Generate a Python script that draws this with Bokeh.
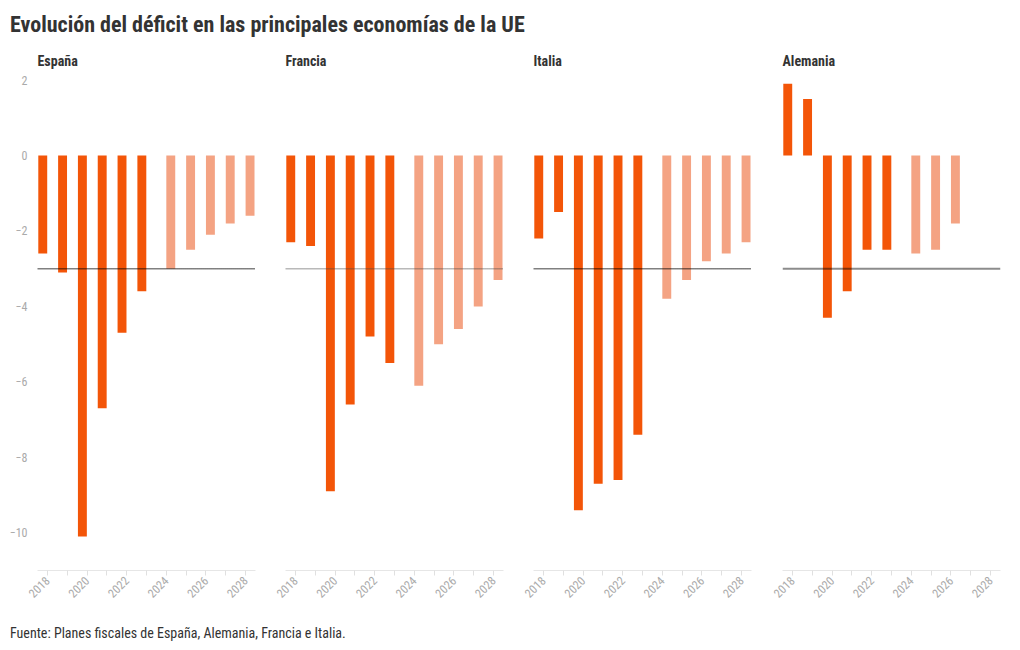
import math
from bokeh.plotting import figure
from bokeh.layouts import row, column
from bokeh.models import Div, Span, FixedTicker, Range1d, ColumnDataSource
from bokeh.transform import dodge
from bokeh.embed import file_html
from bokeh.resources import INLINE

TITLE = "Evolución del déficit en las principales economías de la UE"
SOURCE = "Fuente: Planes fiscales de España, Alemania, Francia e Italia."

countries = ["España", "Francia", "Italia", "Alemania"]
hist_years = [2018, 2019, 2020, 2021, 2022, 2023]
proj_years = [2024, 2025, 2026, 2027, 2028]
alemania_proj_years = [2024, 2025, 2026]

espana_hist = [-2.6, -3.1, -10.1, -6.7, -4.7, -3.6]
espana_proj = [-3.0, -2.5, -2.1, -1.8, -1.6]
francia_hist = [-2.3, -2.4, -8.9, -6.6, -4.8, -5.5]
francia_proj = [-6.1, -5.0, -4.6, -4.0, -3.3]
italia_hist = [-2.2, -1.5, -9.4, -8.7, -8.6, -7.4]
italia_proj = [-3.8, -3.3, -2.8, -2.6, -2.3]
alemania_hist = [1.9, 1.5, -4.3, -3.6, -2.5, -2.5]
alemania_proj = [-2.6, -2.5, -1.8]

x_ticks = [2018, 2020, 2022, 2024, 2026, 2028]
x_minor = [2019, 2021, 2023, 2025, 2027]
y_ticks = [2, 0, -2, -4, -6, -8, -10]
limit = -3

HIST_COLOR = "#F35508"
PROJ_COLOR = "#F4A383"
FONT = "Roboto Condensed"
CSS_FONT = "'Roboto Condensed', 'Liberation Sans Narrow', 'DejaVu Sans Condensed', Roboto, sans-serif"

series = {
    "España": (hist_years, espana_hist, proj_years, espana_proj),
    "Francia": (hist_years, francia_hist, proj_years, francia_proj),
    "Italia": (hist_years, italia_hist, proj_years, italia_proj),
    "Alemania": (hist_years, alemania_hist, alemania_proj_years, alemania_proj),
}
line_styles = {
    "España": dict(line_color="#000000", line_alpha=1.0, line_dash="1 1", line_width=1.5),
    "Francia": dict(line_color="#444444", line_alpha=0.75, line_dash="1 1", line_width=1.5),
    "Italia": dict(line_color="#000000", line_alpha=1.0, line_dash="1 1", line_width=1.5),
    "Alemania": dict(line_color="#000000", line_alpha=0.45, line_width=2),
}

y_range = Range1d(-11, 2.2)
figs = []
for i, c in enumerate(countries):
    hy, hv, py, pv = series[c]
    left = 37 if i == 0 else (16 if i == 3 else 15)
    right = 4 if i == 3 else 15
    width = left + 218 + right
    p = figure(width=width, height=565, x_range=Range1d(2017.5, 2028.5), y_range=y_range,
               output_backend="svg", toolbar_location=None, title=c,
               min_border_left=left, min_border_right=right, min_border_top=27,
               min_border_bottom=40)
    p.outline_line_color = None
    p.xgrid.grid_line_color = None
    p.ygrid.grid_line_color = None
    p.title.text_font = FONT
    p.title.text_font_size = "14px"
    p.title.text_color = "#333333"
    p.title.text_font_style = "bold"
    p.title.standoff = 8
    p.title.offset = 0

    hs = ColumnDataSource(dict(year=hy, val=hv))
    ps = ColumnDataSource(dict(year=py, val=pv))
    p.vbar(x=dodge("year", -0.235, range=p.x_range), top="val", bottom=0, width=0.45,
           source=hs, fill_color=HIST_COLOR, line_color=None)
    p.vbar(x=dodge("year", 0.225, range=p.x_range), top="val", bottom=0, width=0.45,
           source=ps, fill_color=PROJ_COLOR, line_color=None)

    p.add_layout(Span(location=limit, dimension="width", **line_styles[c]))

    xa = p.xaxis[0]
    xa.ticker = FixedTicker(ticks=x_ticks, minor_ticks=x_minor)
    xa.axis_line_color = "#e6e6e6"
    xa.major_tick_line_color = "#e0e0e0"
    xa.minor_tick_line_color = "#e0e0e0"
    xa.major_tick_in = 0
    xa.major_tick_out = 5
    xa.minor_tick_in = 0
    xa.minor_tick_out = 5
    xa.major_label_orientation = math.pi / 4
    xa.major_label_text_font = FONT
    xa.major_label_text_font_size = "12px"
    xa.major_label_text_color = "#aaaaaa"
    xa.major_label_standoff = 3

    ya = p.yaxis[0]
    ya.ticker = FixedTicker(ticks=y_ticks)
    if i == 0:
        ya.axis_line_color = None
        ya.major_tick_line_color = None
        ya.minor_tick_line_color = None
        ya.major_tick_out = 0
        ya.major_tick_in = 0
        ya.minor_tick_out = 0
        ya.minor_tick_in = 0
        ya.major_label_text_font = FONT
        ya.major_label_text_font_size = "12px"
        ya.major_label_text_color = "#aaaaaa"
        ya.major_label_standoff = 10
    else:
        ya.visible = False
    figs.append(p)

title = Div(text=TITLE, width=1004, height=35,
            styles={"font-family": CSS_FONT,
                    "font-size": "22px", "font-weight": "bold", "color": "#333333",
                    "padding-left": "5px", "padding-top": "4px"})
footer = Div(text=SOURCE, width=1004, height=30,
             styles={"font-family": CSS_FONT,
                     "font-size": "14px", "color": "#333333", "padding-left": "5px",
                     "padding-top": "8px"})

layout = column(title, row(*figs), footer)
open("out.html", "w").write(file_html(layout, INLINE))
